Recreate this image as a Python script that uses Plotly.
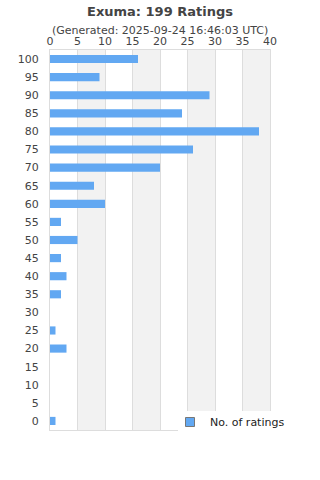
import plotly.graph_objects as go

categories = ["100", "95", "90", "85", "80", "75", "70", "65", "60", "55", "50",
              "45", "40", "35", "30", "25", "20", "15", "10", "5", "0"]
counts = [16, 9, 29, 24, 38, 26, 20, 8, 10, 2, 5, 2, 3, 2, 0, 1, 3, 0, 0, 0, 1]
x_ticks = [0, 5, 10, 15, 20, 25, 30, 35, 40]
title_text = "Exuma: 199 Ratings"
subtitle_text = "(Generated: 2025-09-24 16:46:03 UTC)"
series_name = "No. of ratings"
bands = [(5, 10), (15, 20), (25, 30), (35, 40)]

BAR = "#62a8f2"
TXT = "#444444"
FONT = "DejaVu Sans, sans-serif"

fig = go.Figure()
fig.add_trace(go.Bar(
    x=counts, y=categories, orientation="h",
    marker=dict(color=BAR, line=dict(width=0)),
    width=0.45, showlegend=False, name=series_name,
))
fig.add_trace(go.Scatter(
    x=[None], y=[None], mode="markers", name=series_name,
    marker=dict(symbol="square", size=9, color=BAR, line=dict(color="#777777", width=1)),
))

shapes = []
for a, b in bands:
    shapes.append(dict(type="rect", xref="x", yref="paper", x0=a, x1=b, y0=0, y1=1,
                       fillcolor="#f2f2f2", line=dict(width=0), layer="below"))
# white legend backing box overlapping the plot's bottom-right corner
shapes.append(dict(type="rect", xref="paper", yref="paper",
                   x0=(178 - 50) / 220, x1=(320 - 50) / 220,
                   y0=(430 - 440) / 380, y1=(430 - 411) / 380,
                   fillcolor="white", line=dict(width=0), layer="above"))

fig.update_layout(
    width=320, height=480,
    margin=dict(l=50, r=50, t=50, b=50),
    paper_bgcolor="white", plot_bgcolor="white",
    font=dict(family=FONT, color=TXT, size=11),
    shapes=shapes,
    showlegend=True,
    legend=dict(x=(170 - 50) / 220, y=(430 - 422) / 380, xanchor="left", yanchor="middle",
                bgcolor="rgba(0,0,0,0)", font=dict(size=11, color="#222222"),
                borderwidth=0, itemwidth=30),
    annotations=[
        dict(text="<b>" + title_text + "</b>", x=(160 - 50) / 220, y=1 + (50 - 11) / 380,
             xref="paper", yref="paper", yanchor="middle",
             showarrow=False, font=dict(size=13, color=TXT)),
        dict(text=subtitle_text, x=(160 - 50) / 220, y=1 + (50 - 30) / 380,
             xref="paper", yref="paper", yanchor="middle",
             showarrow=False, font=dict(size=11, color=TXT)),
    ],
)

fig.update_xaxes(
    side="top", range=[0, 40], tickvals=x_ticks, ticktext=[str(v) for v in x_ticks],
    showgrid=True, gridcolor="#dddddd", gridwidth=1,
    showline=True, linecolor="#dddddd", mirror=True, zeroline=False,
    ticks="", tickfont=dict(size=11, color=TXT), fixedrange=True,
)
fig.update_yaxes(
    type="category", categoryorder="array", categoryarray=categories,
    autorange="reversed", showgrid=False,
    showline=True, linecolor="#dddddd", mirror=True,
    ticks="", ticklabelstandoff=8, tickfont=dict(size=11, color=TXT), fixedrange=True,
)

fig.write_html("out.html", config={"displayModeBar": False})
